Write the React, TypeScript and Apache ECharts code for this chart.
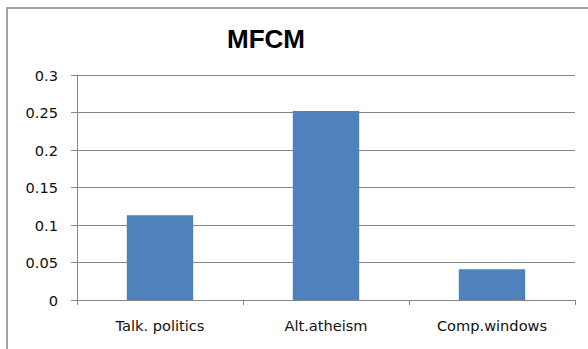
import React, { useEffect, useRef } from "react";
import * as echarts from "echarts";

const categories = ["Talk. politics", "Alt.atheism", "Comp.windows"];
const values = [0.113, 0.252, 0.041];
const yTicks = { min: 0, max: 0.3, interval: 0.05 };
const titleText = "MFCM";

export default function App() {
  const ref = useRef<HTMLDivElement>(null);
  useEffect(() => {
    if (!ref.current) return;
    const chart = echarts.init(ref.current, undefined, { renderer: "svg" });
    chart.setOption({
      animation: false,
      backgroundColor: "#ffffff",
      graphic: [
        {
          type: "rect",
          shape: { x: 7, y: 8, width: 600, height: 400 },
          style: { fill: "none", stroke: "#868686", lineWidth: 1.5 },
          silent: true,
        },
        {
          type: "text",
          x: 266,
          y: 39,
          style: {
            text: titleText,
            fontFamily: "Liberation Sans",
            fontWeight: "bold",
            fontSize: 26,
            fill: "#000",
            align: "center",
            verticalAlign: "middle",
          },
        },
      ],
      grid: { left: 77, right: 13, top: 75, bottom: 49 },
      xAxis: {
        type: "category",
        data: categories,
        axisLine: { show: true, lineStyle: { color: "#868686", width: 1 } },
        axisTick: { show: true, length: 5, lineStyle: { color: "#868686" } },
        axisLabel: {
          color: "#111",
          fontFamily: "DejaVu Sans",
          fontSize: 14.6,
          margin: 18,
        },
      },
      yAxis: {
        type: "value",
        min: yTicks.min,
        max: yTicks.max,
        interval: yTicks.interval,
        axisLine: { show: true, lineStyle: { color: "#868686", width: 1 } },
        axisTick: { show: true, length: 6, lineStyle: { color: "#868686" } },
        splitLine: { show: true, lineStyle: { color: "#868686", width: 1 } },
        axisLabel: {
          color: "#111",
          fontFamily: "DejaVu Sans",
          fontSize: 14.6,
          margin: 19,
        },
      },
      series: [
        {
          type: "bar",
          data: values,
          barWidth: "40%",
          itemStyle: { color: "#4F81BD" },
        },
      ],
    });
    return () => chart.dispose();
  }, []);
  return <div ref={ref} style={{ width: 588, height: 349, position: "absolute", left: 0, top: 0 }} />;
}
